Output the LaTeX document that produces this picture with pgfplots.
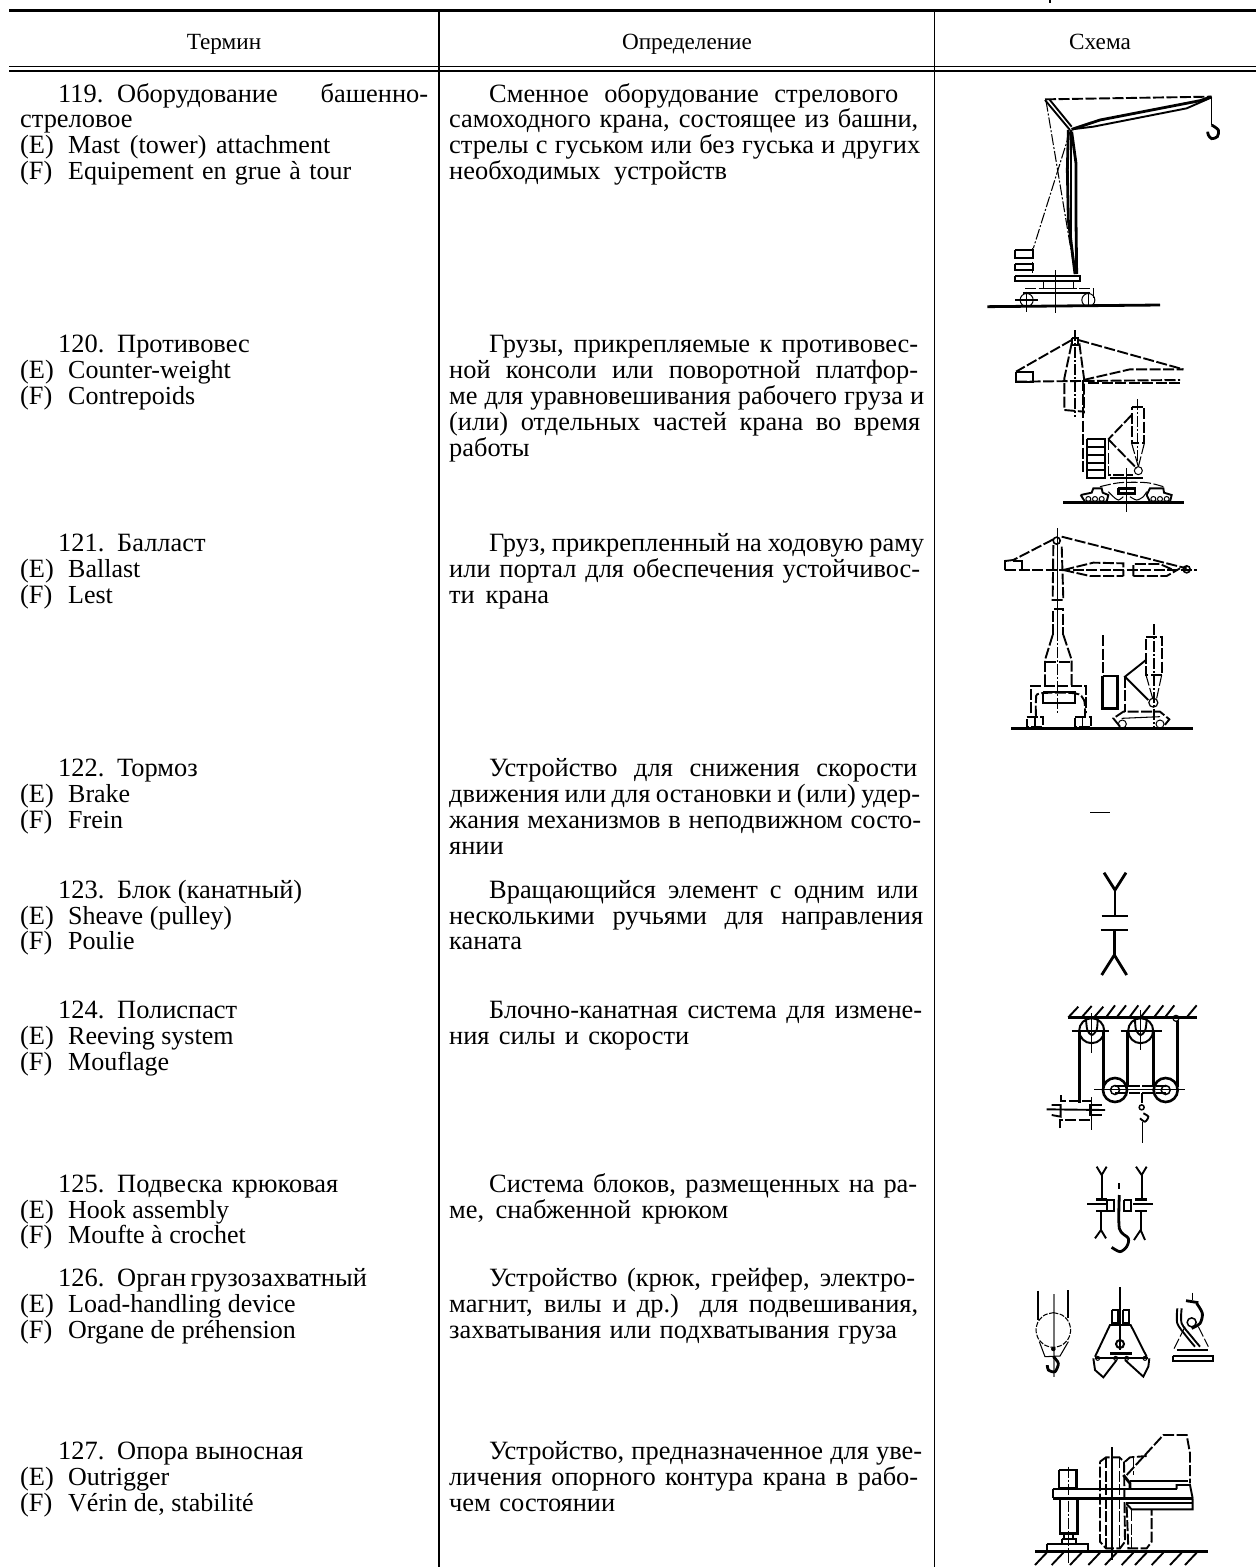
\documentclass[border=0pt]{standalone}
\usepackage{pgfplots}
\pgfplotsset{compat=1.18}
\usepackage{fontspec}
\setmainfont{Liberation Serif}
\newcommand{\bodyf}{\fontsize{26.4}{28}\selectfont}
\newcommand{\latf}{\fontsize{26}{28}\selectfont}
\newcommand{\headf}{\fontsize{23.2}{26}\selectfont}
\newcommand{\Tx}[3]{\node[anchor=base west,inner sep=0pt,yshift=-0.8pt,font=\bodyf] at (axis cs:#1,#2) {#3};}
\newcommand{\Jx}[4]{\node[anchor=base west,inner sep=0pt,yshift=-0.8pt,font=\bodyf] at (axis cs:#1,#2) {\makebox[#3pt][s]{#4}};}
\newcommand{\Hx}[3]{\node[anchor=base,inner sep=0pt,font=\headf] at (axis cs:#1,#2) {#3};}
\newcommand{\Ee}[2]{\Tx{20}{#1}{(E)}\Tx{68}{#1}{\latf #2}}
\newcommand{\Ff}[2]{\Tx{20}{#1}{(F)}\Tx{68}{#1}{\latf #2}}
\newcommand{\Nn}[3]{\Tx{58}{#1}{#2.}\Tx{117}{#1}{#3}}
\newcommand{\Zl}[2]{\addplot[#1] coordinates {#2};}
\newcommand{\Rc}[5]{\addplot[#1] coordinates {(#2,#3)(#4,#3)(#4,#5)(#2,#5)(#2,#3)};}
\newcommand{\Rg}[5]{\addplot[#1,only marks,mark=o,mark size=#4pt,mark options={solid,line width=#5pt}] coordinates {(#2,#3)};}
\pgfplotsset{
 z1/.style={x filter/.expression={960+x/3},y filter/.expression={70+y/3}},
 z2/.style={x filter/.expression={960+x/3},y filter/.expression={320+y/3}},
 z3/.style={x filter/.expression={960+x/3},y filter/.expression={520+y/3}},
 z4/.style={x filter/.expression={1000+x/3},y filter/.expression={860+y/3}},
 z5/.style={x filter/.expression={1000+x/3},y filter/.expression={1150+y/3}},
 z6/.style={x filter/.expression={1000+x/3},y filter/.expression={1420+y/3}},
 th/.style={line width=2.8pt},
 md/.style={line width=1.9pt},
 tn/.style={line width=1.05pt},
 ds/.style={dash pattern=on 11pt off 2.5pt},
 dd/.style={dash pattern=on 11pt off 2pt on 2pt off 2pt},
}
\begin{document}
\begin{tikzpicture}
\path[use as bounding box] (0,0) rectangle (1256pt,1567pt);
\begin{axis}[at={(0,0)},anchor=south west,scale only axis,width=1256pt,height=1567pt,
 xmin=0,xmax=1256,ymin=0,ymax=1567,y dir=reverse,hide axis,clip=true]
% table rules
\addplot[line width=2.4pt] coordinates {(9,10.5)(1256,10.5)};
\addplot[line width=1.5pt] coordinates {(9,66.5)(1256,66.5)};
\addplot[line width=2pt] coordinates {(9,70.5)(1256,70.5)};
\addplot[line width=1.6pt] coordinates {(439,10)(439,1567)};
\addplot[line width=1.6pt] coordinates {(934.5,10)(934.5,1567)};
\addplot[line width=1.6pt] coordinates {(1050,0)(1050,3)};
% header
\Hx{224}{49}{Термин}
\Hx{687}{49}{Определение}
\Hx{1100}{49}{Схема}
% column 1
\Tx{58}{102}{119.}
\Jx{117}{102}{311}{Оборудование \hfill башенно-}
\Tx{20}{127}{стреловое}
\Ee{153}{\makebox[262pt][s]{Mast (tower) attachment}}
\Ff{179}{\makebox[283pt][s]{Equipement en grue à tour}}
\Nn{352}{120}{Противовес}
\Ee{378}{Counter-weight}
\Ff{404}{Contrepoids}
\Nn{551}{121}{Балласт}
\Ee{577}{Ballast}
\Ff{603}{Lest}
\Nn{776}{122}{Тормоз}
\Ee{802}{Brake}
\Ff{828}{Frein}
\Nn{898}{123}{Блок (канатный)}
\Ee{924}{Sheave (pulley)}
\Ff{949}{Poulie}
\Nn{1018}{124}{Полиспаст}
\Ee{1044}{Reeving system}
\Ff{1070}{Mouflage}
\Nn{1192}{125}{\makebox[221pt][s]{Подвеска крюковая}}
\Ee{1218}{Hook assembly}
\Ff{1243}{Moufte à crochet}
\Nn{1286}{126}{\makebox[249pt][s]{Орган грузозахватный}}
\Ee{1312}{Load-handling device}
\Ff{1338}{Organe de préhension}
\Nn{1459}{127}{\makebox[186pt][s]{Опора выносная}}
\Ee{1485}{Outrigger}
\Ff{1511}{Vérin de, stabilité}
% column 2
\Jx{489}{102}{409}{Сменное оборудование стрелового}
\Jx{449}{127}{469}{самоходного крана, состоящее из башни,}
\Jx{449}{153}{471}{стрелы с гуськом или без гуська и других}
\Jx{449}{179}{278}{необходимых устройств}
\Jx{489}{352}{429}{Грузы, прикрепляемые к противовес-}
\Jx{449}{378}{469}{ной консоли или поворотной платфор-}
\Jx{449}{404}{475}{ме для уравновешивания рабочего груза и}
\Jx{449}{430}{471}{(или) отдельных частей крана во время}
\Tx{449}{456}{работы}
\Jx{489}{551}{435}{Груз, прикрепленный на ходовую раму}
\Jx{449}{577}{471}{или портал для обеспечения устойчивос-}
\Jx{449}{603}{100}{ти крана}
\Jx{489}{776}{428}{Устройство для снижения скорости}
\Jx{449}{802}{471}{движения или для остановки и (или) удер-}
\Jx{449}{828}{472}{жания механизмов в неподвижном состо-}
\Tx{449}{854}{янии}
\Jx{489}{898}{429}{Вращающийся элемент с одним или}
\Jx{449}{924}{474}{несколькими ручьями для направления}
\Tx{449}{949}{каната}
\Jx{489}{1018}{433}{Блочно-канатная система для измене-}
\Jx{449}{1044}{240}{ния силы и скорости}
\Jx{489}{1192}{428}{Система блоков, размещенных на ра-}
\Jx{449}{1218}{279}{ме, снабженной крюком}
\Jx{489}{1286}{426}{Устройство (крюк, грейфер, электро-}
\Jx{449}{1312}{469}{магнит, вилы и др.) для подвешивания,}
\Jx{449}{1338}{448}{захватывания или подхватывания груза}
\Jx{489}{1459}{433}{Устройство, предназначенное для уве-}
\Jx{449}{1485}{469}{личения опорного контура крана в рабо-}
\Jx{449}{1511}{166}{чем состоянии}
% dash for 122
\addplot[line width=1pt] coordinates {(1090,812)(1110,812)};
% ---------- Crane 119
\Zl{z1,md,ds}{(255,88)(750,80)}
\Zl{z1,th}{(335,178)(420,150)(720,92)(755,80)}
\Zl{z1,md}{(335,178)(400,170)(680,115)(755,82)}
\Zl{z1,md}{(255,90)(330,180)}
\Zl{z1,md}{(268,88)(335,170)}
\Zl{z1,tn}{(755,80)(755,165)}
\Zl{z1,th,smooth}{(755,165)(775,180)(772,200)(755,206)(745,195)(743,185)}
\Zl{z1,th}{(325,180)(322,300)(325,450)(345,612)}
\Zl{z1,th}{(335,185)(348,280)(348,450)(350,612)}
\Zl{z1,md}{(332,180)(332,500)}
\Zl{z1,tn,dd}{(258,92)(345,612)}
\Zl{z1,tn,dd}{(330,185)(220,535)}
\Rc{z1,md}{165}{540}{218}{565}
\Rc{z1,md}{165}{582}{218}{600}
\Zl{z1,tn,ds}{(218,535)(218,615)}
\Rc{z1,md}{165}{618}{360}{632}
\Zl{z1,tn}{(250,632)(250,655)(340,655)(340,632)}
\Zl{z1,tn}{(287,600)(287,728)}
\Zl{z1,tn,ds}{(195,655)(400,655)(400,685)}
\Zl{z1,md}{(190,668)(390,668)}
\Rg{z1}{200}{690}{6.5}{1}
\Rg{z1}{385}{690}{6.5}{1}
\Zl{z1,tn}{(200,665)(200,725)}
\Zl{z1,tn}{(385,665)(385,710)}
\Zl{z1,tn}{(165,690)(235,690)}
\Zl{z1,th}{(82,710)(600,705)}
% ---------- Crane 120
\Zl{z2,tn,dd}{(345,30)(345,290)}
\Rc{z2,md}{335}{55}{353}{75}
\Zl{z2,md,ds}{(335,60)(168,155)}
\Zl{z2,md,ds}{(355,60)(670,148)}
\Rc{z2,md}{168}{155}{218}{185}
\Zl{z2,md,ds}{(168,185)(660,180)}
\Zl{z2,md,ds}{(370,180)(510,148)(670,148)}
\Zl{z2,md,ds}{(385,190)(660,190)}
\Zl{z2,md,ds}{(335,70)(313,175)(313,270)(372,275)}
\Zl{z2,md,ds}{(358,70)(372,175)(372,280)}
\Zl{z2,md,ds}{(368,180)(368,460)}
\Rc{z2,md,ds}{515}{262}{553}{370}
\Zl{z2,tn,dd}{(532,238)(532,440)}
\Zl{z2,tn,ds}{(515,370)(535,440)}
\Zl{z2,tn,ds}{(553,370)(535,440)}
\Zl{z2,md,ds}{(515,285)(445,358)}
\Zl{z2,md,ds}{(445,358)(530,445)}
\Rc{z2,md}{380}{357}{435}{475}
\Zl{z2,md}{(380,380)(435,380)}
\Zl{z2,md}{(380,404)(435,404)}
\Zl{z2,md}{(380,428)(435,428)}
\Zl{z2,md}{(380,450)(435,450)}
\Zl{z2,tn,ds}{(445,358)(445,465)(520,465)}
\Rg{z2}{535}{452}{4}{1}
\Zl{z2,tn,ds,smooth}{(420,500)(480,488)(560,488)(610,500)}
\Zl{z2,tn}{(500,445)(500,575)}
\Zl{z2,md}{(450,475)(550,475)}
\Zl{z2,md}{(362,525)(395,518)(400,505)(425,505)(428,518)(445,525)(440,545)(375,545)(362,525)}
\Rg{z2}{385}{537}{2.5}{1}
\Rg{z2}{405}{537}{2.5}{1}
\Rg{z2}{425}{537}{2.5}{1}
\Rc{z2,th}{475}{505}{525}{520}
\Zl{z2,md}{(560,525)(570,505)(610,505)(612,518)(635,525)(630,545)(570,545)(560,525)}
\Rg{z2}{580}{537}{2.5}{1}
\Rg{z2}{600}{537}{2.5}{1}
\Rg{z2}{620}{537}{2.5}{1}
\Zl{z2,tn,smooth}{(445,515)(460,530)(475,540)(490,530)}
\Zl{z2,tn,smooth}{(510,530)(530,540)(550,530)(560,515)}
\Zl{z2,th}{(310,548)(672,548)}
% ---------- Crane 121
\Zl{z3,tn}{(292,25)(292,330)}
\Rg{z3}{290}{62}{3.5}{1.6}
\Zl{z3,md,ds}{(280,58)(160,120)}
\Zl{z3,md,ds}{(305,50)(640,135)(680,145)}
\Zl{z3,md}{(135,150)(135,123)(160,120)}
\Zl{z3,md}{(160,123)(185,123)(185,150)}
\Zl{z3,md,ds}{(135,150)(710,150)}
\Zl{z3,md,ds}{(310,150)(400,128)(490,130)(490,168)}
\Zl{z3,md,ds}{(310,150)(390,168)(490,168)}
\Zl{z3,md,ds}{(520,168)(520,132)(600,132)(640,150)}
\Zl{z3,md,ds}{(520,168)(620,168)(660,145)}
\Rg{z3}{680}{148}{3.5}{1.6}
\Zl{z3,md,ds}{(280,75)(278,240)(310,240)(305,75)}
\Zl{z3,md,ds}{(278,345)(278,268)(310,268)(310,345)}
\Zl{z3,md,ds}{(278,345)(255,420)(255,495)}
\Zl{z3,md,ds}{(310,345)(335,420)(335,495)}
\Zl{z3,md,ds}{(255,425)(335,425)}
\Zl{z3,tn,dd}{(292,330)(292,580)}
\Zl{z3,md,ds}{(212,580)(212,497)(378,497)(378,580)}
\Zl{z3,md,ds,smooth}{(228,590)(228,540)(240,520)(345,520)(372,540)(375,590)}
\Rc{z3,md}{250}{515}{345}{550}
\Rc{z3,md,ds}{200}{590}{248}{622}
\Rc{z3,md,ds}{345}{590}{392}{622}
\Zl{z3,tn}{(225,590)(225,622)}
\Zl{z3,tn}{(368,590)(368,622)}
\Zl{z3,th}{(153,625)(700,625)}
\Zl{z3,md,ds}{(428,345)(428,465)}
\Rc{z3,th}{428}{468}{472}{565}
\Rc{z3,md,ds}{558}{350}{605}{465}
\Zl{z3,tn,dd}{(582,312)(582,625)}
\Zl{z3,md}{(558,420)(495,470)(565,540)}
\Zl{z3,md,ds}{(495,470)(495,575)}
\Zl{z3,tn,ds}{(558,465)(578,535)}
\Zl{z3,tn,ds}{(605,465)(590,535)}
\Rg{z3}{580}{548}{4.5}{1.2}
\Zl{z3,md,ds}{(480,620)(460,595)(490,575)(600,575)(628,598)(610,620)}
\Zl{z3,tn}{(485,595)(600,590)}
\Rg{z3}{487}{612}{4}{1}
\Rg{z3}{600}{612}{4}{1}
% ---------- Sheave 123
\Zl{z4,th}{(312,38)(345,90)(378,38)}
\Zl{z4,th}{(345,90)(345,168)}
\Zl{z4,th}{(305,168)(385,168)}
\Zl{z4,th}{(302,210)(385,210)}
\Zl{z4,th}{(343,210)(343,285)}
\Zl{z4,th}{(305,345)(343,285)(380,345)}
% ---------- Reeving 124
\Zl{z4,th}{(205,472)(590,472)}
\Zl{z4,md}{(205,472)(235,440)}
\Zl{z4,md}{(245,472)(275,438)}
\Zl{z4,md}{(282,472)(310,440)}
\Zl{z4,md}{(318,472)(345,436)}
\Zl{z4,md}{(350,472)(378,436)}
\Zl{z4,md}{(388,472)(415,436)}
\Zl{z4,md}{(422,472)(450,436)}
\Zl{z4,md}{(462,472)(490,436)}
\Zl{z4,md}{(495,472)(523,436)}
\Zl{z4,md}{(560,472)(590,436)}
\Rg{z4}{275}{512}{12.5}{2}
\Rg{z4}{422}{512}{12.5}{2}
\Zl{z4,md,smooth}{(258,478)(262,510)(275,525)(290,510)(293,478)}
\Zl{z4,md,smooth}{(405,478)(408,510)(422,525)(436,510)(440,478)}
\Zl{z4,tn}{(215,513)(328,513)}
\Zl{z4,tn}{(362,513)(485,513)}
\Zl{z4,tn}{(275,460)(275,580)}
\Zl{z4,tn}{(422,450)(422,570)}
\Zl{z4,th}{(238,515)(238,730)}
\Zl{z4,th}{(310,515)(310,680)}
\Zl{z4,th}{(382,515)(382,680)}
\Zl{z4,th}{(460,515)(460,680)}
\Zl{z4,th}{(533,482)(533,680)}
\Rg{z4}{528}{475}{3}{1.2}
\Rg{z4}{345}{690}{12}{2.6}
\Rg{z4}{345}{690}{4.5}{1.5}
\Rg{z4}{497}{690}{12}{2.6}
\Rg{z4}{497}{690}{4.5}{1.5}
\Zl{z4,tn}{(282,688)(555,688)}
\Zl{z4,md,ds}{(345,678)(497,678)}
\Zl{z4,md,ds}{(345,700)(497,700)}
\Zl{z4,md}{(425,700)(425,730)}
\Rg{z4}{425}{742}{2.5}{1.5}
\Zl{z4,md,smooth}{(430,760)(445,770)(435,785)(420,775)}
\Zl{z4,tn}{(427,785)(427,850)}
\Zl{z4,md,ds}{(182,705)(182,722)(275,722)}
\Zl{z4,tn}{(275,712)(275,810)}
\Zl{z4,md}{(140,748)(315,750)}
\Zl{z4,md}{(155,735)(182,735)(182,770)(155,765)}
\Zl{z4,md}{(305,735)(270,735)(270,765)(305,765)}
\Zl{z4,md,ds}{(180,805)(180,780)(270,780)}
% ---------- Hook assembly 125
\Zl{z5,md}{(290,50)(305,75)(320,50)}
\Zl{z5,md}{(305,75)(305,145)}
\Zl{z5,th}{(288,148)(322,148)}
\Zl{z5,tn}{(262,162)(320,162)}
\Zl{z5,md}{(288,182)(322,182)}
\Zl{z5,md}{(303,182)(303,240)}
\Zl{z5,md}{(285,265)(303,240)(318,265)}
\Rc{z5,md}{322}{150}{343}{182}
\Rc{z5,md}{372}{150}{392}{182}
\Zl{z5,md}{(408,50)(425,75)(440,50)}
\Zl{z5,md}{(425,75)(425,145)}
\Zl{z5,th}{(405,148)(440,148)}
\Zl{z5,tn}{(400,162)(460,162)}
\Zl{z5,md}{(405,182)(440,182)}
\Zl{z5,md}{(422,182)(422,240)}
\Zl{z5,md}{(402,270)(422,240)(435,270)}
\Zl{z5,md}{(358,100)(358,118)}
\Zl{z5,th,smooth}{(358,135)(358,235)(385,265)(380,290)(360,305)(335,292)}
% ---------- Load devices 126
\Zl{z5,md}{(113,422)(113,510)}
\Zl{z5,md}{(205,420)(205,505)}
\Zl{z5,tn,black!55}{(162,432)(162,680)}
\Zl{z5,tn,dash pattern=on 5pt off 1.5pt,smooth}{(160,488)(186,495)(205,514)(212,540)(205,566)(186,585)(160,592)(134,585)(115,566)(108,540)(115,514)(134,495)(160,488)}
\Zl{z5,tn}{(118,575)(135,620)(180,618)(205,575)}
\addplot[z5,only marks,mark=*,mark size=2pt] coordinates {(160,597)};
\Zl{z5,th,smooth}{(160,620)(175,640)(165,665)(145,660)(142,645)}
\Zl{z5,md}{(360,412)(360,600)}
\Rc{z5,md}{335}{480}{355}{520}
\Rc{z5,md}{370}{480}{388}{520}
\Zl{z5,md}{(285,620)(330,525)(392,525)(440,620)}
\Rg{z5}{360}{582}{4}{2}
\Zl{z5,th}{(330,610)(395,610)}
\Zl{z5,md}{(280,625)(285,660)(310,682)(350,630)}
\Zl{z5,md}{(375,630)(430,680)(445,650)(448,625)}
\Zl{z5,md}{(285,625)(445,625)}
\Rg{z5}{293}{625}{2}{1}
\Rg{z5}{347}{625}{2}{1}
\Rg{z5}{380}{625}{2}{1}
\Rg{z5}{435}{625}{2}{1}
\Zl{z5,tn}{(578,428)(578,450)}
\Zl{z5,th}{(558,452)(595,458)}
\Zl{z5,th,smooth}{(590,460)(607,490)(600,520)(575,535)}
\Rg{z5}{575}{517}{4.5}{1.5}
\Zl{z5,md,smooth}{(532,475)(532,520)(560,560)(585,590)}
\Zl{z5,md,smooth}{(545,475)(545,520)(575,560)(600,590)}
\Zl{z5,tn,ds}{(555,530)(520,600)}
\Zl{z5,tn,ds}{(595,530)(625,590)}
\Zl{z5,th}{(530,600)(625,600)}
\Rc{z5,md}{518}{617}{640}{633}
% ---------- Outrigger 127
\Rc{z6,th}{177}{150}{230}{205}
\Zl{z6,th}{(180,235)(180,340)(232,340)(232,235)}
\Zl{z6,tn,dd}{(205,140)(205,430)}
\Zl{z6,th}{(158,207)(530,207)}
\Zl{z6,th}{(158,235)(578,235)}
\Zl{z6,md}{(158,207)(158,235)}
\Rc{z6,md}{140}{372}{265}{395}
\Rc{z6,md}{185}{358}{228}{372}
\Rc{z6,md}{192}{340}{218}{358}
\Zl{z6,md,ds}{(300,125)(318,112)(358,112)(372,125)(375,365)(360,385)(318,385)(300,365)(300,125)}
\Zl{z6,tn,ds}{(318,112)(318,385)}
\Zl{z6,tn,ds}{(358,112)(358,385)}
\Zl{z6,tn}{(336,82)(336,420)}
\Zl{z6,md,ds}{(375,125)(390,112)(440,108)}
\Zl{z6,md,ds}{(380,260)(385,385)(440,385)(455,365)(455,270)}
\Zl{z6,tn,ds}{(400,112)(400,165)}
\Zl{z6,tn,ds}{(395,270)(395,385)}
\Zl{z6,md,ds}{(380,165)(490,45)(560,45)(570,100)(570,190)}
\Zl{z6,th}{(370,165)(390,190)(390,207)}
\Zl{z6,th}{(390,183)(565,183)}
\Zl{z6,md}{(530,207)(530,195)(570,195)(578,235)}
\Zl{z6,md}{(378,250)(578,250)}
\Zl{z6,md}{(378,250)(395,268)(578,268)(578,235)}
\Zl{z6,th}{(105,395)(625,395)}
\Zl{z6,md}{(140,398)(105,435)}
\Zl{z6,md}{(190,398)(155,435)}
\Zl{z6,md}{(245,398)(210,435)}
\Zl{z6,md}{(300,398)(265,435)}
\Zl{z6,md}{(350,398)(315,435)}
\Zl{z6,md}{(400,398)(365,435)}
\Zl{z6,md}{(440,398)(405,435)}
\Zl{z6,md}{(490,398)(455,435)}
\Zl{z6,md}{(545,398)(510,435)}
\Zl{z6,md}{(590,398)(555,435)}
\end{axis}
\end{tikzpicture}
\end{document}
